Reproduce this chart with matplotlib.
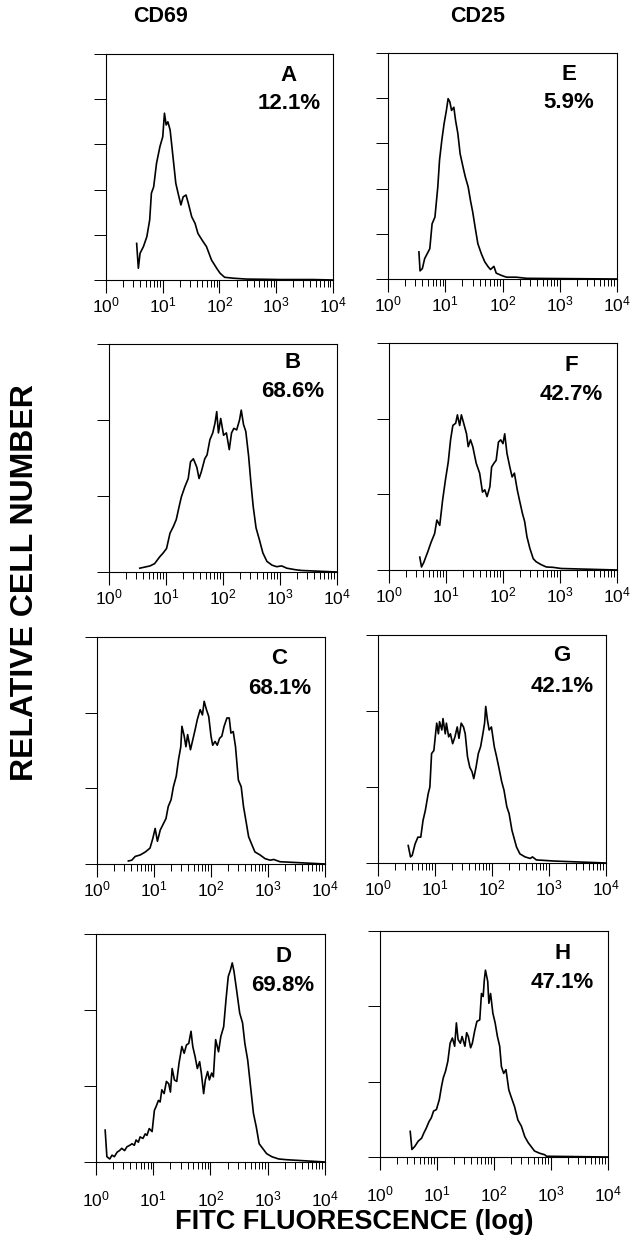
import numpy as np
import matplotlib
matplotlib.use('Agg')
import matplotlib.pyplot as plt
from matplotlib.ticker import LogLocator, NullFormatter, FixedLocator

plt.rcParams['font.family'] = ['Liberation Sans', 'DejaVu Sans']
plt.rcParams['mathtext.default'] = 'regular'

# Histogram traces: x in log decades, y in tick units
a_dec = [0.54, 0.57, 0.60, 0.66, 0.72, 0.77, 0.80, 0.84, 0.89, 0.95, 1.00, 1.03, 1.06, 1.09,
         1.13, 1.18, 1.23, 1.27, 1.32, 1.36, 1.41, 1.45, 1.51, 1.57, 1.62, 1.71, 1.77, 1.86,
         1.95, 2.01, 2.09, 2.24, 2.48, 2.83, 3.06, 3.65, 4.0]
a_cnt = [0.81, 0.26, 0.59, 0.74, 0.96, 1.33, 1.92, 2.06, 2.58, 2.95, 3.17, 3.69, 3.43, 3.50,
         3.32, 2.73, 2.14, 1.92, 1.66, 1.84, 1.88, 1.70, 1.40, 1.25, 1.03, 0.85, 0.74, 0.44,
         0.26, 0.15, 0.06, 0.04, 0.02, 0.015, 0.01, 0.01, 0.0]

e_dec = [0.54, 0.56, 0.60, 0.64, 0.73, 0.77, 0.82, 0.87, 0.90, 0.94, 0.98, 1.02, 1.05, 1.08,
         1.11, 1.15, 1.18, 1.22, 1.26, 1.31, 1.35, 1.40, 1.44, 1.48, 1.53, 1.57, 1.63, 1.69,
         1.75, 1.79, 1.85, 1.89, 1.98, 2.07, 2.24, 2.42, 4.0]
e_cnt = [0.60, 0.18, 0.23, 0.45, 0.67, 1.22, 1.37, 2.04, 2.63, 3.07, 3.44, 3.73, 3.99, 3.92,
         3.73, 3.80, 3.51, 3.22, 2.77, 2.48, 2.26, 2.04, 1.74, 1.48, 1.08, 0.78, 0.56, 0.38,
         0.27, 0.21, 0.28, 0.13, 0.08, 0.04, 0.04, 0.015, 0.0]

b_dec = [0.54, 0.60, 0.72, 0.80, 0.89, 0.95, 1.01, 1.07, 1.13, 1.18, 1.23, 1.27, 1.33, 1.39,
         1.43, 1.48, 1.54, 1.58, 1.62, 1.68, 1.72, 1.77, 1.82, 1.86, 1.89, 1.92, 1.96, 2.01,
         2.06, 2.11, 2.15, 2.19, 2.24, 2.29, 2.32, 2.36, 2.40, 2.45, 2.49, 2.53, 2.58, 2.64,
         2.70, 2.77, 2.86, 2.94, 3.03, 3.12, 3.27, 3.38, 4.0]
b_cnt = [0.05, 0.06, 0.08, 0.11, 0.20, 0.25, 0.31, 0.51, 0.60, 0.69, 0.86, 0.99, 1.12, 1.23,
         1.45, 1.49, 1.38, 1.23, 1.32, 1.49, 1.54, 1.74, 1.83, 1.96, 2.11, 1.83, 2.02, 1.80,
         1.83, 1.61, 1.83, 1.89, 1.87, 2.00, 2.13, 1.94, 1.85, 1.52, 1.17, 0.86, 0.58, 0.42,
         0.25, 0.14, 0.09, 0.07, 0.08, 0.05, 0.03, 0.02, 0.0]

f_dec = [0.54, 0.57, 0.61, 0.68, 0.74, 0.80, 0.84, 0.89, 0.94, 0.99, 1.04, 1.08, 1.12, 1.17,
         1.20, 1.24, 1.27, 1.31, 1.36, 1.39, 1.43, 1.47, 1.53, 1.59, 1.64, 1.68, 1.72, 1.77,
         1.80, 1.84, 1.88, 1.92, 1.96, 2.00, 2.03, 2.07, 2.12, 2.16, 2.20, 2.25, 2.29, 2.34,
         2.38, 2.42, 2.47, 2.53, 2.58, 2.67, 2.76, 2.88, 3.02, 4.0]
f_cnt = [0.17, 0.04, 0.10, 0.24, 0.37, 0.48, 0.66, 0.59, 0.92, 1.19, 1.43, 1.72, 1.91, 1.94,
         2.05, 1.91, 2.05, 1.94, 1.80, 1.63, 1.72, 1.63, 1.41, 1.28, 1.03, 1.06, 0.97, 1.10,
         1.36, 1.41, 1.45, 1.69, 1.72, 1.67, 1.80, 1.54, 1.36, 1.23, 1.28, 1.06, 0.92, 0.75,
         0.64, 0.44, 0.29, 0.15, 0.11, 0.07, 0.04, 0.035, 0.02, 0.0]

c_dec = [0.55, 0.61, 0.67, 0.76, 0.85, 0.93, 0.98, 1.02, 1.06, 1.11, 1.17, 1.21, 1.25, 1.30,
         1.34, 1.39, 1.43, 1.47, 1.49, 1.53, 1.56, 1.59, 1.64, 1.68, 1.72, 1.76, 1.81, 1.85,
         1.88, 1.92, 1.96, 2.00, 2.03, 2.07, 2.11, 2.15, 2.19, 2.23, 2.28, 2.32, 2.35, 2.39,
         2.43, 2.48, 2.53, 2.57, 2.62, 2.66, 2.72, 2.77, 2.86, 2.95, 3.04, 3.10, 3.21, 4.0]
c_cnt = [0.04, 0.05, 0.10, 0.12, 0.16, 0.21, 0.34, 0.47, 0.30, 0.45, 0.54, 0.60, 0.76, 0.85,
         1.02, 1.16, 1.38, 1.55, 1.82, 1.69, 1.55, 1.71, 1.51, 1.64, 1.77, 1.91, 2.04, 1.97,
         2.15, 2.04, 1.95, 1.69, 1.57, 1.62, 1.57, 1.66, 1.69, 1.82, 1.93, 1.93, 1.73, 1.75,
         1.55, 1.11, 1.02, 0.76, 0.54, 0.36, 0.25, 0.16, 0.12, 0.07, 0.05, 0.06, 0.03, 0.0]

g_dec = [0.53, 0.57, 0.60, 0.65, 0.70, 0.75, 0.79, 0.83, 0.88, 0.91, 0.94, 0.98, 1.01, 1.03,
         1.06, 1.08, 1.12, 1.14, 1.18, 1.20, 1.24, 1.27, 1.31, 1.35, 1.39, 1.42, 1.46, 1.50,
         1.53, 1.57, 1.61, 1.65, 1.68, 1.72, 1.76, 1.80, 1.84, 1.87, 1.89, 1.92, 1.95, 1.99,
         2.04, 2.08, 2.13, 2.17, 2.21, 2.26, 2.30, 2.35, 2.39, 2.43, 2.49, 2.58, 2.67, 2.71,
         2.78, 2.90, 3.08, 4.0]
g_cnt = [0.23, 0.08, 0.10, 0.25, 0.34, 0.34, 0.56, 0.69, 0.91, 1.00, 1.44, 1.48, 1.70, 1.84,
         1.70, 1.86, 1.75, 1.90, 1.70, 1.84, 1.66, 1.70, 1.57, 1.66, 1.79, 1.64, 1.84, 1.79,
         1.70, 1.40, 1.26, 1.20, 1.11, 1.26, 1.44, 1.53, 1.70, 1.84, 2.06, 1.88, 1.75, 1.79,
         1.53, 1.40, 1.22, 1.07, 0.96, 0.74, 0.65, 0.43, 0.32, 0.21, 0.12, 0.08, 0.06, 0.08,
         0.04, 0.035, 0.026, 0.0]

d_dec = [0.16, 0.19, 0.24, 0.28, 0.32, 0.37, 0.41, 0.45, 0.50, 0.54, 0.59, 0.63, 0.67, 0.70,
         0.74, 0.77, 0.82, 0.86, 0.89, 0.93, 0.98, 1.02, 1.05, 1.09, 1.12, 1.15, 1.19, 1.23,
         1.27, 1.30, 1.33, 1.37, 1.41, 1.45, 1.50, 1.54, 1.58, 1.62, 1.66, 1.69, 1.73, 1.77,
         1.81, 1.84, 1.88, 1.91, 1.95, 1.98, 2.02, 2.05, 2.09, 2.14, 2.18, 2.23, 2.27, 2.31,
         2.35, 2.38, 2.41, 2.46, 2.51, 2.56, 2.60, 2.65, 2.70, 2.75, 2.80, 2.85, 2.91, 2.98,
         3.07, 3.19, 3.33, 4.0]
d_cnt = [0.42, 0.07, 0.04, 0.09, 0.07, 0.13, 0.15, 0.18, 0.15, 0.20, 0.22, 0.24, 0.22, 0.29,
         0.26, 0.33, 0.31, 0.37, 0.35, 0.44, 0.40, 0.68, 0.73, 0.81, 0.79, 0.95, 0.90, 1.06,
         1.03, 0.92, 1.23, 1.08, 1.06, 1.30, 1.52, 1.43, 1.54, 1.56, 1.72, 1.52, 1.39, 1.23,
         1.32, 1.17, 0.90, 1.08, 1.19, 1.08, 1.17, 1.12, 1.61, 1.45, 1.65, 1.78, 2.13, 2.44,
         2.53, 2.62, 2.51, 2.24, 1.96, 1.83, 1.56, 1.34, 0.99, 0.64, 0.46, 0.24, 0.18, 0.11,
         0.07, 0.04, 0.03, 0.0]

h_dec = [0.53, 0.56, 0.61, 0.67, 0.73, 0.77, 0.81, 0.86, 0.90, 0.94, 0.99, 1.04, 1.08, 1.11,
         1.15, 1.19, 1.23, 1.27, 1.31, 1.34, 1.37, 1.41, 1.44, 1.49, 1.52, 1.55, 1.59, 1.62,
         1.66, 1.70, 1.75, 1.78, 1.81, 1.83, 1.85, 1.89, 1.91, 1.94, 1.98, 2.02, 2.06, 2.10,
         2.13, 2.17, 2.21, 2.26, 2.30, 2.36, 2.42, 2.48, 2.54, 2.60, 2.65, 2.71, 2.80, 2.89,
         2.92, 4.0]
h_cnt = [0.34, 0.10, 0.14, 0.21, 0.25, 0.32, 0.38, 0.47, 0.52, 0.61, 0.63, 0.76, 0.94, 1.05,
         1.14, 1.27, 1.51, 1.58, 1.47, 1.78, 1.56, 1.51, 1.60, 1.47, 1.65, 1.60, 1.45, 1.51,
         1.67, 1.80, 1.82, 2.17, 2.13, 2.35, 2.48, 2.33, 2.04, 2.17, 1.91, 1.78, 1.60, 1.47,
         1.20, 1.11, 1.16, 0.89, 0.80, 0.67, 0.49, 0.41, 0.27, 0.19, 0.14, 0.08, 0.05, 0.03,
         0.01, 0.0]

letters = ['A', 'E', 'B', 'F', 'C', 'G', 'D', 'H']
percents = ['12.1%', '5.9%', '68.6%', '42.7%', '68.1%', '42.1%', '69.8%', '47.1%']
traces = [(a_dec, a_cnt), (e_dec, e_cnt), (b_dec, b_cnt), (f_dec, f_cnt),
          (c_dec, c_cnt), (g_dec, g_cnt), (d_dec, d_cnt), (h_dec, h_cnt)]
ymax = [5, 5, 3, 3, 3, 3, 3, 3]
xticks = [1, 10, 100, 1000, 10000]

# panel boxes in pixels (x0, y0, x1, y1) and label spots in axes fraction
W, H = 634, 1243
boxes = [(106, 54, 333, 280), (388, 53, 617, 279),
         (109, 344, 337, 572), (389, 343, 617, 570),
         (97, 637, 325, 864), (378, 635, 606, 863),
         (96, 934, 325, 1162), (380, 931, 608, 1157)]
label_xy = [(0.806, 0.907, 0.779), (0.79, 0.907, 0.779),
            (0.807, 0.917, 0.79), (0.80, 0.903, 0.775),
            (0.80, 0.907, 0.775), (0.807, 0.912, 0.776),
            (0.817, 0.90, 0.772), (0.80, 0.90, 0.774)]
label_pad = [2, 2, 2, 2, 2, 2, 11, 11]

fig = plt.figure(figsize=(W / 100, H / 100), dpi=100)

for i in range(8):
    x0, y0, x1, y1 = boxes[i]
    ax = fig.add_axes([x0 / W, 1 - y1 / H, (x1 - x0) / W, (y1 - y0) / H])
    dec, cnt = traces[i]
    ax.plot(10 ** np.array(dec), cnt, color='black', lw=1.2)
    ax.set_xscale('log')
    ax.set_xlim(1, 1e4)
    ax.set_ylim(0, ymax[i])
    ax.xaxis.set_major_locator(FixedLocator(xticks))
    ax.xaxis.set_minor_locator(LogLocator(base=10, subs=np.arange(2, 10), numticks=60))
    ax.xaxis.set_minor_formatter(NullFormatter())
    ax.set_yticks(range(ymax[i] + 1))
    ax.set_yticklabels([])
    ax.tick_params(axis='x', which='major', direction='out', length=9, width=0.8,
                   labelsize=12.5, pad=label_pad[i])
    ax.tick_params(axis='x', which='minor', direction='out', length=5, width=0.7)
    ax.tick_params(axis='y', direction='out', length=8.5, width=0.7)
    for s in ax.spines.values():
        s.set_linewidth(0.8)
    lx, ly1, ly2 = label_xy[i]
    ax.text(lx, ly1, letters[i], transform=ax.transAxes, ha='center', va='center',
            fontsize=16, fontweight='bold')
    ax.text(lx, ly2, percents[i], transform=ax.transAxes, ha='center', va='center',
            fontsize=16, fontweight='bold')

fig.text(160 / W, 1 - 17 / H, 'CD69', ha='center', va='center', fontsize=15.5, fontweight='bold')
fig.text(478 / W, 1 - 17 / H, 'CD25', ha='center', va='center', fontsize=15.5, fontweight='bold')
fig.text(25 / W, 1 - 583 / H, 'RELATIVE CELL NUMBER', rotation=90, ha='center', va='center',
         fontsize=23, fontweight='bold')
fig.text(354 / W, 1 - 1222 / H, 'FITC FLUORESCENCE (log)', ha='center', va='center',
         fontsize=19.5, fontweight='bold')

fig.savefig('out.png', dpi=100)
